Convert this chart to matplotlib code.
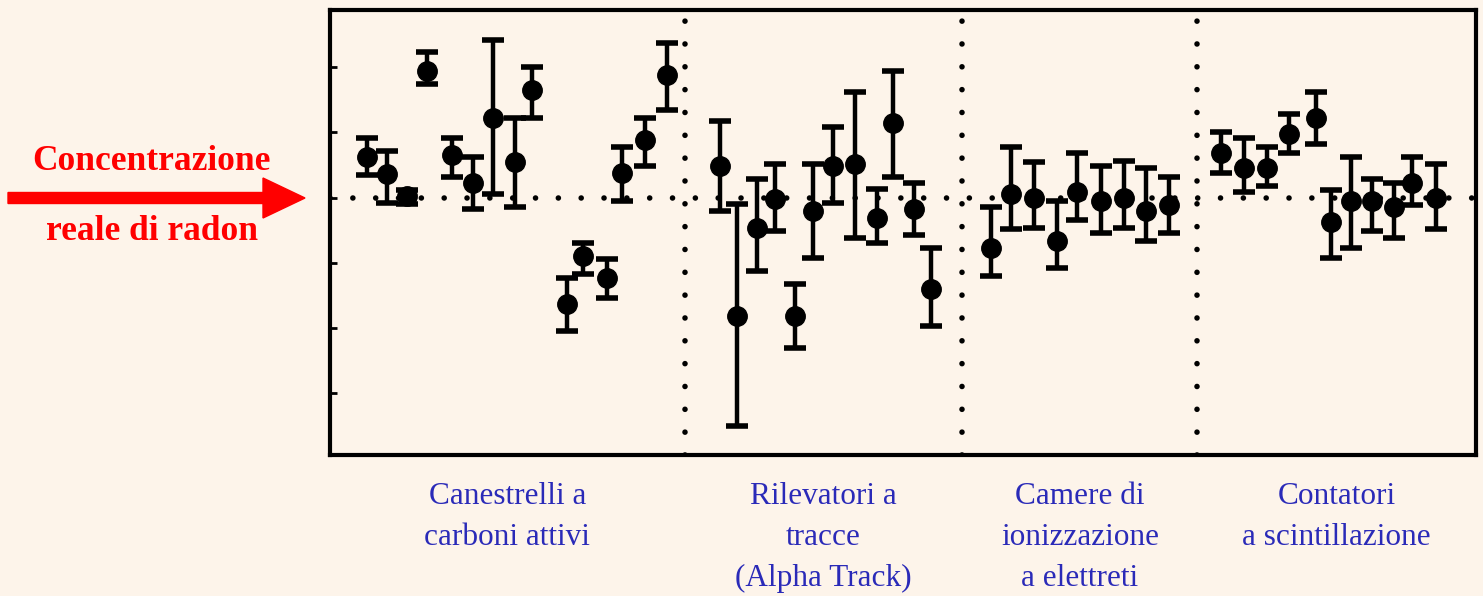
import matplotlib.pyplot as plt
from matplotlib.patches import FancyArrow
import numpy as np

# Measurements, relative to the true radon concentration (0 = true value)
groups = ["Canestrelli a\ncarboni attivi",
          "Rilevatori a\ntracce\n(Alpha Track)",
          "Camere di\nionizzazione\na elettreti",
          "Contatori\na scintillazione"]

x1 = [37, 57, 77, 97, 122, 143, 163, 185, 202, 237, 253, 277, 292, 315, 337]
c1 = [0.62, 0.37, 0.03, 1.95, 0.65, 0.23, 1.22, 0.54, 1.65, -1.63, -0.89, -1.23, 0.38, 0.88, 1.88]
hi1 = [0.91, 0.72, 0.11, 2.23, 0.92, 0.62, 2.42, 1.22, 2.00, -1.23, -0.69, -0.94, 0.77, 1.23, 2.37]
lo1 = [0.34, -0.08, -0.09, 1.75, 0.31, -0.17, 0.06, -0.15, 1.23, -2.05, -1.17, -1.54, -0.05, 0.49, 1.34]

x2 = [390, 407, 427, 445, 465, 483, 503, 525, 547, 563, 585, 602]
c2 = [0.49, -1.82, -0.46, -0.02, -1.82, -0.20, 0.49, 0.52, -0.31, 1.15, -0.17, -1.40]
hi2 = [1.18, -0.09, 0.29, 0.52, -1.32, 0.52, 1.08, 1.62, 0.14, 1.95, 0.23, -0.78]
lo2 = [-0.20, -3.51, -1.12, -0.51, -2.31, -0.92, -0.08, -0.62, -0.69, 0.31, -0.58, -1.97]

x3 = [662, 682, 705, 728, 748, 772, 795, 817, 840]
c3 = [-0.78, 0.06, 0.00, -0.66, 0.08, -0.05, 0.00, -0.20, -0.12]
hi3 = [-0.15, 0.77, 0.54, -0.05, 0.68, 0.49, 0.57, 0.45, 0.31]
lo3 = [-1.20, -0.48, -0.46, -1.08, -0.35, -0.55, -0.46, -0.66, -0.55]

x4 = [892, 915, 938, 960, 987, 1002, 1022, 1043, 1065, 1083, 1107]
c4 = [0.68, 0.46, 0.45, 0.98, 1.23, -0.38, -0.05, -0.05, -0.15, 0.23, 0.00]
hi4 = [1.00, 0.91, 0.77, 1.29, 1.62, 0.11, 0.62, 0.29, 0.22, 0.62, 0.52]
lo4 = [0.38, 0.08, 0.18, 0.68, 0.83, -0.92, -0.78, -0.51, -0.62, -0.12, -0.48]

dividers = [355, 633, 868]
section_edges = [0, 355, 633, 868, 1147]

bg = "#fdf4ea"
fig = plt.figure(figsize=(14.83, 5.96), dpi=100, facecolor=bg)
ax = fig.add_axes([0.2225, 0.2366, 0.7728, 0.7466], facecolor=bg)

dots = (0, (0.01, 4.1))
ax.axhline(0, color="black", lw=4, linestyle=dots, dash_capstyle="round", zorder=1)
for d in dividers:
    ax.axvline(d, color="black", lw=4, linestyle=dots, dash_capstyle="round", zorder=1)

for xs, c, hi, lo in [(x1, c1, hi1, lo1), (x2, c2, hi2, lo2), (x3, c3, hi3, lo3), (x4, c4, hi4, lo4)]:
    c = np.array(c)
    yerr = [c - np.array(lo), np.array(hi) - c]
    ax.errorbar(xs, c, yerr=yerr, fmt="o", color="black", ms=14,
                elinewidth=3.2, capsize=8, capthick=4, zorder=3)

ax.set_xlim(0, 1147)
ax.set_ylim(-3.95, 2.88)
ax.set_yticks([-3, -2, -1, 0, 1, 2])
ax.set_yticklabels([])
ax.set_xticks([])
ax.tick_params(axis="y", direction="in", length=5, width=2, left=True, right=False)
for s in ax.spines.values():
    s.set_linewidth(3)

# category labels, centred under each section
for i, g in enumerate(groups):
    xc = (section_edges[i] + section_edges[i + 1]) / 2
    ax.text(xc, -4.36, g, ha="center", va="top", fontsize=22.5, color="#2a2ab8",
            family="Liberation Serif", linespacing=1.55)

# red arrow showing the true radon level
fig.patches.append(FancyArrow(8 / 1483, 398 / 596, 255 / 1483, 0,
                              width=11 / 596, head_width=40 / 596, head_length=42 / 1483,
                              length_includes_head=False, color="red",
                              transform=fig.transFigure, figure=fig))
fig.text(151 / 1483, 1 - 162 / 596, "Concentrazione", ha="center", va="center",
         fontsize=25.5, color="red", weight="bold", family="Liberation Serif")
fig.text(152 / 1483, 1 - 232 / 596, "reale di radon", ha="center", va="center",
         fontsize=25.5, color="red", weight="bold", family="Liberation Serif")

fig.savefig("out.png", dpi=100, facecolor=bg)
